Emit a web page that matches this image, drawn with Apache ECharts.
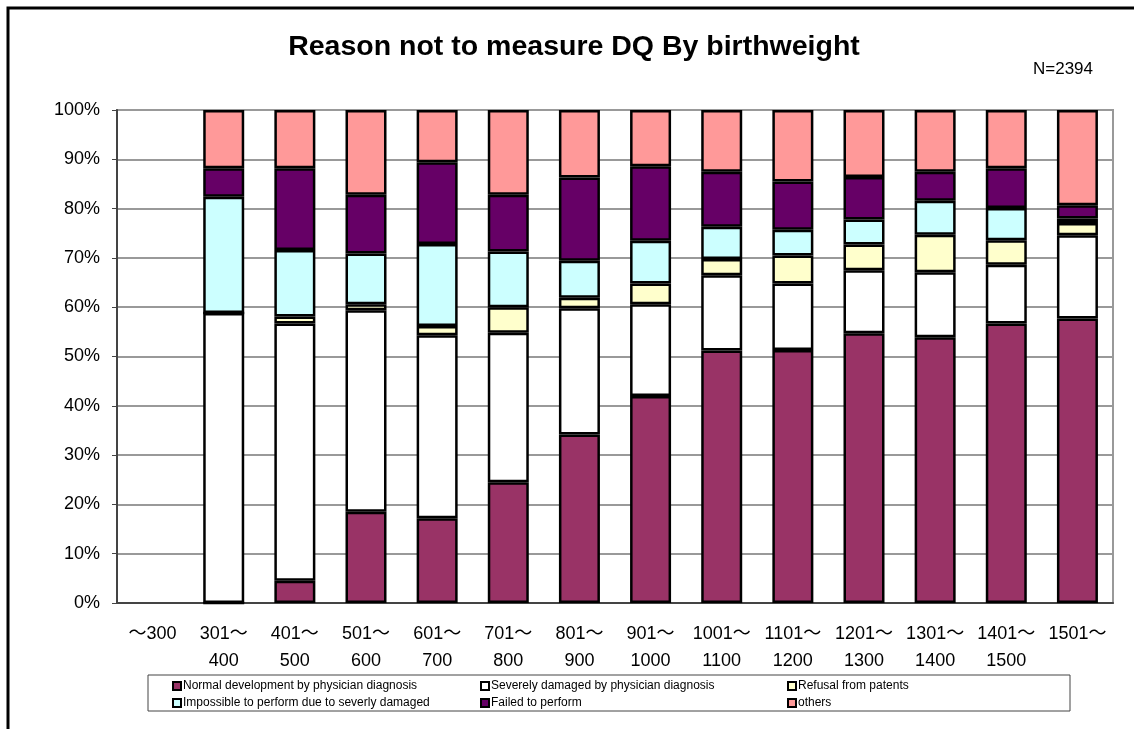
<!DOCTYPE html>
<html>
<head>
<meta charset="utf-8">
<title>Reason not to measure DQ By birthweight</title>
<script src="https://cdn.jsdelivr.net/npm/echarts@6/dist/echarts.min.js"></script>
<style>
  html, body { margin: 0; padding: 0; background: #fff; }
  #main { width: 1134px; height: 729px; }
</style>
</head>
<body>
<div id="main"></div>
<script>
// categories (birthweight, g)
const categories = ['～300', '301～\n400', '401～\n500', '501～\n600', '601～\n700', '701～\n800',
  '801～\n900', '901～\n1000', '1001～\n1100', '1101～\n1200', '1201～\n1300', '1301～\n1400',
  '1401～\n1500', '1501～']

// percentages ('-' = no data)
const normalDev = ['-', 0, 4.5, 18.5, 17.2, 24.5, 34.2, 42.0, 51.2, 51.3, 54.7, 53.9, 56.7, 57.7]
const severeDamaged = ['-', 58.8, 52.2, 40.9, 37.1, 30.3, 25.6, 18.6, 15.3, 13.5, 12.8, 13.2, 11.9, 16.9]
const refusal = ['-', 0, 1.4, 1.2, 1.9, 5.2, 2.1, 4.2, 3.3, 5.7, 5.2, 7.6, 5.0, 2.5]
const impossible = ['-', 23.6, 13.5, 10.3, 16.6, 11.3, 7.5, 8.7, 6.5, 5.2, 5.1, 6.9, 6.5, 0.9]
const failed = ['-', 5.8, 16.6, 11.9, 16.6, 11.5, 16.9, 15.1, 11.2, 9.8, 8.6, 5.9, 8.1, 2.7]
const others = ['-', 11.8, 11.8, 17.2, 10.6, 17.2, 13.7, 11.4, 12.5, 14.5, 13.6, 12.5, 11.8, 19.3]

const seriesNames = [
  'Normal development by physician diagnosis',
  'Severely damaged by physician diagnosis',
  'Refusal from patents',
  'Impossible to perform due to severly damaged',
  'Failed to perform',
  'others'
]
const seriesData = [normalDev, severeDamaged, refusal, impossible, failed, others]
const colors = ['#993366', '#ffffff', '#ffffcc', '#ccffff', '#660066', '#ff9999']

const font = 'Liberation Sans, Arial, Noto Sans CJK JP, sans-serif'

const myChart = echarts.init(document.getElementById('main'))

// legend: one small legend per item so they line up in 3 columns
const legendPos = [[172, 680], [480, 680], [787, 680], [172, 697], [480, 697], [787, 697]]
const legends = seriesNames.map((name, i) => ({
  data: [name],
  left: legendPos[i][0],
  top: legendPos[i][1],
  padding: 0,
  itemWidth: 8,
  itemHeight: 8,
  itemGap: 0,
  icon: 'rect',
  textStyle: { fontFamily: font, fontSize: 12, color: '#000', padding: [0, 0, 0, -3] }
}))

const option = {
  animation: false,
  color: colors,
  legend: legends,
  grid: {
    left: 117,
    right: 21,
    top: 110,
    bottom: 126,
    show: true,
    borderColor: '#999',
    borderWidth: 2
  },
  xAxis: {
    type: 'category',
    data: categories,
    axisLine: { lineStyle: { color: '#444', width: 2 } },
    axisTick: { inside: true, length: 5, lineStyle: { color: '#444' } },
    axisLabel: {
      margin: 18,
      fontFamily: font,
      fontSize: 18,
      lineHeight: 27,
      color: '#000',
      interval: 0
    }
  },
  yAxis: {
    type: 'value',
    min: 0,
    max: 100,
    interval: 10,
    axisLine: { show: true, lineStyle: { color: '#444', width: 2 } },
    axisTick: { show: true, length: 5, lineStyle: { color: '#444' } },
    axisLabel: {
      formatter: '{value}%',
      margin: 17,
      fontFamily: font,
      fontSize: 18,
      color: '#000'
    },
    splitLine: { lineStyle: { color: '#999', width: 2 } }
  },
  graphic: [
    {
      type: 'rect',
      shape: { x: 8, y: 8, width: 1300, height: 900 },
      style: { fill: 'none', stroke: '#000', lineWidth: 3 },
      silent: true
    },
    {
      type: 'text',
      x: 574,
      y: 47,
      style: {
        text: 'Reason not to measure DQ By birthweight',
        fontFamily: font,
        fontSize: 28.5,
        fontWeight: 'bold',
        fill: '#000',
        align: 'center',
        verticalAlign: 'middle'
      }
    },
    {
      type: 'text',
      x: 1063,
      y: 69,
      style: {
        text: 'N=2394',
        fontFamily: font,
        fontSize: 17,
        fill: '#000',
        align: 'center',
        verticalAlign: 'middle'
      }
    },
    {
      type: 'rect',
      shape: { x: 148, y: 675, width: 922, height: 36 },
      style: { fill: 'none', stroke: '#444', lineWidth: 1 },
      silent: true,
      z: -1
    }
  ],
  series: seriesNames.map((name, i) => ({
    name: name,
    type: 'bar',
    stack: 'total',
    barWidth: 41,
    data: seriesData[i],
    itemStyle: { color: colors[i], borderColor: '#000', borderWidth: 2.5 }
  }))
}

myChart.setOption(option)
</script>
</body>
</html>
